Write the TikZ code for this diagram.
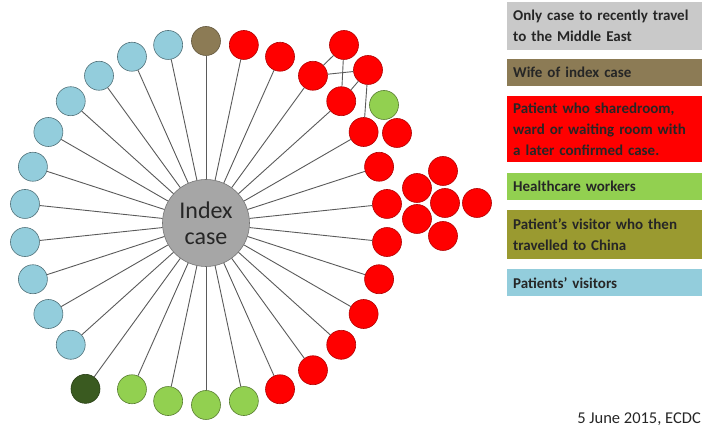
\documentclass[tikz,border=0pt]{standalone}
\usepackage{fontspec}
\usepackage{xcolor}
\usepackage{tikz}
\setmainfont{Carlito}
\definecolor{indexgray}{HTML}{A6A6A6}
\definecolor{travelgray}{HTML}{C9C9C9}
\definecolor{wifebrown}{HTML}{8C7B55}
\definecolor{patientred}{HTML}{FF0000}
\definecolor{workergreen}{HTML}{92D050}
\definecolor{chinagreen}{HTML}{3A5A20}
\definecolor{chinaolive}{HTML}{9A9A30}
\definecolor{visitorblue}{HTML}{93CDDC}
\definecolor{spokegray}{HTML}{5A5A5A}

\begin{document}
\begin{tikzpicture}[x=1pt,y=1pt,
  dot/.style={circle,minimum size=29pt,inner sep=0pt,line width=0.6pt},
  visitor/.style={dot,fill=visitorblue,draw=visitorblue!55!black},
  patient/.style={dot,fill=patientred,draw=patientred!70!black},
  worker/.style={dot,fill=workergreen,draw=workergreen!60!black},
  wifecase/.style={dot,fill=wifebrown,draw=wifebrown!70!black},
  chinacase/.style={dot,fill=chinagreen,draw=chinagreen!70!black},
  spoke/.style={draw=spokegray,line width=0.9pt},
  legend/.style={anchor=north west,text width=200pt,inner xsep=6pt,inner ysep=2pt,
    align=left,text=black!85,font=\bfseries\fontsize{15}{21}\selectfont}]
  \useasboundingbox (-206,-204) rectangle (496,223);
  % index case in the middle
  \node[circle,minimum size=87pt,inner sep=0pt,fill=indexgray,draw=indexgray!70!black,
    line width=0.6pt,align=center,text=black!85,font=\fontsize{24}{26}\selectfont] (idx) at (0,0) {Index\\case};
  \node[wifecase] (wife) at (90:182) {};
  % patients' visitors
  \node[visitor] (v1) at (102:182) {};
  \node[visitor] (v2) at (114:182) {};
  \node[visitor] (v3) at (126:182) {};
  \node[visitor] (v4) at (138:182) {};
  \node[visitor] (v5) at (150:182) {};
  \node[visitor] (v6) at (162:182) {};
  \node[visitor] (v7) at (174:182) {};
  \node[visitor] (v8) at (186:182) {};
  \node[visitor] (v9) at (198:182) {};
  \node[visitor] (v10) at (210:182) {};
  \node[visitor] (v11) at (222:182) {};
  \node[chinacase] (china) at (234:205) {};
  % healthcare workers
  \node[worker] (h1) at (246:182) {};
  \node[worker] (h2) at (258:182) {};
  \node[worker] (h3) at (270:182) {};
  \node[worker] (h4) at (282:182) {};
  \node[worker] (h5) at (178,118) {};
  % patients
  \node[patient] (p1) at (78:182) {};
  \node[patient] (p2) at (66:182) {};
  \node[patient] (p3) at (54:182) {};
  \node[patient] (p4) at (42:182) {};
  \node[patient] (p5) at (30:182) {};
  \node[patient] (p6) at (18:182) {};
  \node[patient] (p7) at (6:182) {};
  \node[patient] (p8) at (-6:182) {};
  \node[patient] (p9) at (-18:182) {};
  \node[patient] (p10) at (-30:182) {};
  \node[patient] (p11) at (-42:182) {};
  \node[patient] (p12) at (-54:182) {};
  \node[patient] (p13) at (-66:182) {};
  \node[patient] (p14) at (138,178) {};
  \node[patient] (p15) at (162,153) {};
  \node[patient] (p16) at (191,90) {};
  \node[patient] (q1) at (211,35) {};
  \node[patient] (q2) at (237,52) {};
  \node[patient] (q3) at (239,20) {};
  \node[patient] (q4) at (271,20) {};
  \node[patient] (q5) at (211,4) {};
  \node[patient] (q6) at (237,-13) {};
  \foreach \n in {wife,v1,v2,v3,v4,v5,v6,v7,v8,v9,v10,v11,china,h1,h2,h3,h4,
    p1,p2,p3,p4,p5,p6,p7,p8,p9,p10,p11,p12,p13}
    \draw[spoke] (idx) -- (\n);
  \draw[spoke] (p3) -- (p14);
  \draw[spoke] (p3) -- (p15);
  \draw[spoke] (p14) -- (p4);
  \draw[spoke] (p15) -- (p4);
  \draw[spoke] (p15) -- (p5);
  % legend
  \node[legend,fill=travelgray,minimum height=48pt] (l1) at (301,221) {Only case to recently travel\\to the Middle East};
  \node[legend,fill=wifebrown,minimum height=27pt] (l2) at (301,164) {Wife of index case};
  \node[legend,fill=patientred,minimum height=66pt] (l3) at (301,127) {Patient who sharedroom,\\ward or waiting room with\\a later confirmed case.};
  \node[legend,fill=workergreen,minimum height=27pt] (l4) at (301,50) {Healthcare workers};
  \node[legend,fill=chinaolive,minimum height=49pt] (l5) at (301,13) {Patient’s visitor who then\\travelled to China};
  \node[legend,fill=visitorblue,minimum height=27pt] (l6) at (301,-46) {Patients’ visitors};
  \node[anchor=south east,inner sep=1pt,text=black!85,font=\fontsize{16.5}{18}\selectfont] (date) at (496,-204) {5 June 2015, ECDC};
\end{tikzpicture}
\end{document}
